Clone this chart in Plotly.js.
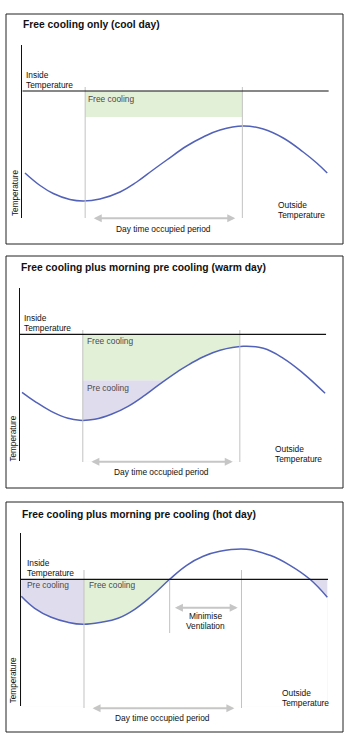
<!DOCTYPE html>
<html><head><meta charset="utf-8">
<script src="https://cdn.plot.ly/plotly-3.0.1.min.js"></script>
<style>html,body{margin:0;padding:0;background:#fff}#chart{width:351px;height:740px}</style>
</head><body><div id="chart"></div>
<script>
// ---------------- data (hours of day, °C) ----------------
const coolHours = [4.17, 5.13, 5.97, 7.03, 7.88, 8.94, 10.22, 11.28, 12.31, 13.19, 14.46, 15.51, 16.58, 18.06, 19.33, 20.6, 21.87, 22.73, 23.4];
const coolTemps = [13.8, 12.55, 11.75, 11.15, 11.0, 11.2, 11.9, 12.9, 14.1, 15.1, 16.5, 17.4, 18.1, 18.5, 18.2, 17.3, 15.9, 14.8, 13.8];
const warmHours = [4.13, 4.94, 5.99, 7.06, 7.8, 8.76, 9.82, 10.88, 11.94, 12.79, 14.06, 14.62, 15.68, 16.74, 18.22, 19.5, 20.77, 22.04, 23.43];
const warmTemps = [16.2, 15.3, 14.3, 13.6, 13.4, 13.5, 14.0, 14.8, 15.9, 16.9, 18.3, 18.85, 19.75, 20.4, 20.8, 20.6, 19.6, 18.1, 16.1];
const hotHours = [4.02, 4.87, 5.92, 6.98, 7.94, 9.1, 10.16, 11.22, 12.27, 13.44, 14.52, 15.57, 16.63, 18.32, 19.81, 21.08, 22.35, 23.45];
const hotTemps = [20.3, 19.1, 18.2, 17.7, 17.5, 17.7, 18.1, 19.0, 20.3, 22.0, 23.4, 24.3, 24.8, 25.0, 24.4, 23.4, 22.0, 20.2];
const insideTemp = 22;
const occupiedPeriod = [8, 18];
const coolFreeCoolingFloor = 19.4;
const warmPreCoolingLevel = 17.4;
const hotVentilationPeriod = [13.44, 18];
const panelTitles = ['Free cooling only (cool day)', 'Free cooling plus morning pre cooling (warm day)', 'Free cooling plus morning pre cooling (hot day)'];

// ---------------- layout geometry ----------------
const W = 351, H = 740;
const xRange = [4, 23.5], yRange = [9.3, 26.6];
const panels = [
  {left: 22.3, right: 328.8, top: 45, bottom: 218, frame: [6, 14, 343, 244]},
  {left: 20, right: 326.2, top: 288.3, bottom: 461.3, frame: [6, 256, 343, 488]},
  {left: 21, right: 328.1, top: 533.3, bottom: 706.3, frame: [6, 502, 343, 732]}
];
const FONT = 'Liberation Sans, Arial, Helvetica, sans-serif';
const GREEN = '#e3f0d8', PURPLE = '#dfdcee', CURVE = '#5262b8', VGREY = '#c2c2c2', AGREY = '#c6c6c6';
const px = v => v / W, py = v => 1 - v / H;

const data = [];
const shapes = [];
const annotations = [];
const layout = {
  width: W, height: H, margin: {l: 0, r: 0, t: 0, b: 0},
  paper_bgcolor: '#fff', plot_bgcolor: 'rgba(0,0,0,0)', showlegend: false,
  font: {family: FONT, color: '#111'}
};

function rect(xa, ya, x0, x1, y0, y1, color) {
  data.push({type: 'scatter', mode: 'lines', xaxis: xa, yaxis: ya,
    x: [x0, x1, x1, x0, x0], y: [y0, y0, y1, y1, y0],
    fill: 'toself', fillcolor: color, line: {width: 0}, hoverinfo: 'skip'});
}
function curve(xa, ya, xs, ys) {
  data.push({type: 'scatter', mode: 'lines', xaxis: xa, yaxis: ya, x: xs, y: ys,
    line: {color: CURVE, width: 1.5, shape: 'spline', smoothing: 1.2}, fill: 'tozeroy', fillcolor: '#ffffff', hoverinfo: 'skip'});
}
function text(t, x, y, opts) {
  annotations.push(Object.assign({text: t, xref: 'paper', yref: 'paper', x: px(x), y: py(y),
    xanchor: 'left', yanchor: 'middle', showarrow: false,
    font: {family: FONT, size: 8.4, color: '#111'}}, opts || {}));
}
function arrow(xa, xFrom, xTo, y) {
  annotations.push({text: '', xref: xa, yref: 'paper', x: xTo, y: py(y), axref: xa, ayref: 'pixel', ax: xFrom, ay: 0,
    showarrow: true, arrowside: 'end+start', arrowhead: 2, startarrowhead: 2,
    arrowsize: 0.8, startarrowsize: 0.8, arrowwidth: 2, arrowcolor: AGREY, standoff: 0, startstandoff: 0});
}

panels.forEach((p, i) => {
  const s = i ? String(i + 1) : '';
  layout['xaxis' + s] = {domain: [px(p.left), px(p.right)], range: xRange, anchor: 'y' + s,
    showgrid: false, zeroline: false, showticklabels: false, ticks: '', showline: false, fixedrange: true};
  layout['yaxis' + s] = {domain: [py(p.bottom), py(p.top)], range: yRange, anchor: 'x' + s,
    showgrid: false, zeroline: false, showticklabels: false, ticks: '', showline: true,
    linecolor: '#111', linewidth: 1, fixedrange: true};
  const [fx0, fy0, fx1, fy1] = p.frame;
  shapes.push({type: 'rect', xref: 'paper', yref: 'paper', x0: px(fx0), x1: px(fx1), y0: py(fy0), y1: py(fy1),
    line: {color: '#222', width: 1}});
});

// ---- panel 1 ----
rect('x', 'y', occupiedPeriod[0], occupiedPeriod[1], coolFreeCoolingFloor, insideTemp, GREEN);
curve('x', 'y', coolHours, coolTemps);
// ---- panel 2 ----
rect('x2', 'y2', occupiedPeriod[0], occupiedPeriod[1], yRange[0], warmPreCoolingLevel, PURPLE);
rect('x2', 'y2', occupiedPeriod[0], occupiedPeriod[1], warmPreCoolingLevel, insideTemp, GREEN);
curve('x2', 'y2', warmHours, warmTemps);
// ---- panel 3 ----
rect('x3', 'y3', hotHours[0], occupiedPeriod[0], yRange[0], insideTemp, PURPLE);
rect('x3', 'y3', occupiedPeriod[0], occupiedPeriod[1], yRange[0], insideTemp, GREEN);
rect('x3', 'y3', occupiedPeriod[1], hotHours[hotHours.length - 1], yRange[0], insideTemp, PURPLE);
curve('x3', 'y3', hotHours, hotTemps);

// vertical occupied-period markers
const vl = [[87, 218], [330, 462], [570, 708]];
['x', 'x2', 'x3'].forEach((xa, i) => {
  occupiedPeriod.forEach(h => shapes.push({type: 'line', xref: xa, yref: 'paper', x0: h, x1: h,
    y0: py(vl[i][0]), y1: py(vl[i][1]), line: {color: VGREY, width: 1}, layer: 'above'}));
});
shapes.push({type: 'line', xref: 'x3', yref: 'paper', x0: hotVentilationPeriod[0], x1: hotVentilationPeriod[0],
  y0: py(579.3), y1: py(633), line: {color: VGREY, width: 1}, layer: 'above'});
// inside temperature lines
['', '2', '3'].forEach(s => shapes.push({type: 'line', xref: 'x' + s, yref: 'y' + s,
  x0: xRange[0], x1: xRange[1], y0: insideTemp, y1: insideTemp, line: {color: '#111', width: 1.2}, layer: 'above'}));

// titles
const titlePos = [[21, 25], [19, 267.7], [19.7, 514]];
panelTitles.forEach((t, i) => text('<b>' + t + '</b>', titlePos[i][0], titlePos[i][1],
  {font: {family: FONT, size: 10.3, color: '#111'}}));

const FILLTXT = {family: FONT, size: 8.4, color: '#4a4a4a'};
const ROT = {family: FONT, size: 8.2, color: '#111'};
// panel 1 texts
text('Inside', 24, 75); text('Temperature', 24, 85);
text('Free cooling', 86, 98.7, {font: FILLTXT});
text('Outside', 276, 205); text('Temperature', 276, 215);
text('Temperature', 15, 193, {textangle: -90, xanchor: 'center', font: ROT});
text('Day time occupied period', 0, 229.3, {xref: 'x', x: (occupiedPeriod[0] + occupiedPeriod[1]) / 2, xanchor: 'center'});
arrow('x', occupiedPeriod[0] + 0.45, occupiedPeriod[1] - 0.45, 218.3);
// panel 2 texts
text('Inside', 21.7, 318.3); text('Temperature', 21.7, 328.3);
text('Free cooling', 85, 340.7, {font: FILLTXT});
text('Pre cooling', 85, 387.7, {font: FILLTXT});
text('Outside', 273, 449); text('Temperature', 273, 459);
text('Temperature', 13.3, 438.3, {textangle: -90, xanchor: 'center', font: ROT});
text('Day time occupied period', 0, 471.7, {xref: 'x2', x: (occupiedPeriod[0] + occupiedPeriod[1]) / 2, xanchor: 'center'});
arrow('x2', occupiedPeriod[0] + 0.45, occupiedPeriod[1] - 0.45, 461.7);
// panel 3 texts
text('Inside', 25, 562.7); text('Temperature', 25, 572.7);
text('Pre cooling', 25, 585, {font: FILLTXT});
text('Free cooling', 87.3, 585, {font: FILLTXT});
text('Minimise', 0, 616, {xref: 'x3', x: (hotVentilationPeriod[0] + hotVentilationPeriod[1]) / 2, xanchor: 'center'});
text('Ventilation', 0, 626, {xref: 'x3', x: (hotVentilationPeriod[0] + hotVentilationPeriod[1]) / 2, xanchor: 'center'});
arrow('x3', hotVentilationPeriod[0] + 0.24, hotVentilationPeriod[1] - 0.24, 607.7);
text('Outside', 280, 693.3); text('Temperature', 280, 703.3);
text('Temperature', 13.3, 680, {textangle: -90, xanchor: 'center', font: ROT});
text('Day time occupied period', 0, 717.7, {xref: 'x3', x: (occupiedPeriod[0] + occupiedPeriod[1]) / 2, xanchor: 'center'});
arrow('x3', occupiedPeriod[0] + 0.45, occupiedPeriod[1] - 0.45, 708.3);

layout.shapes = shapes;
layout.annotations = annotations;
Plotly.newPlot('chart', data, layout, {staticPlot: true, displayModeBar: false});
</script>
</body></html>
